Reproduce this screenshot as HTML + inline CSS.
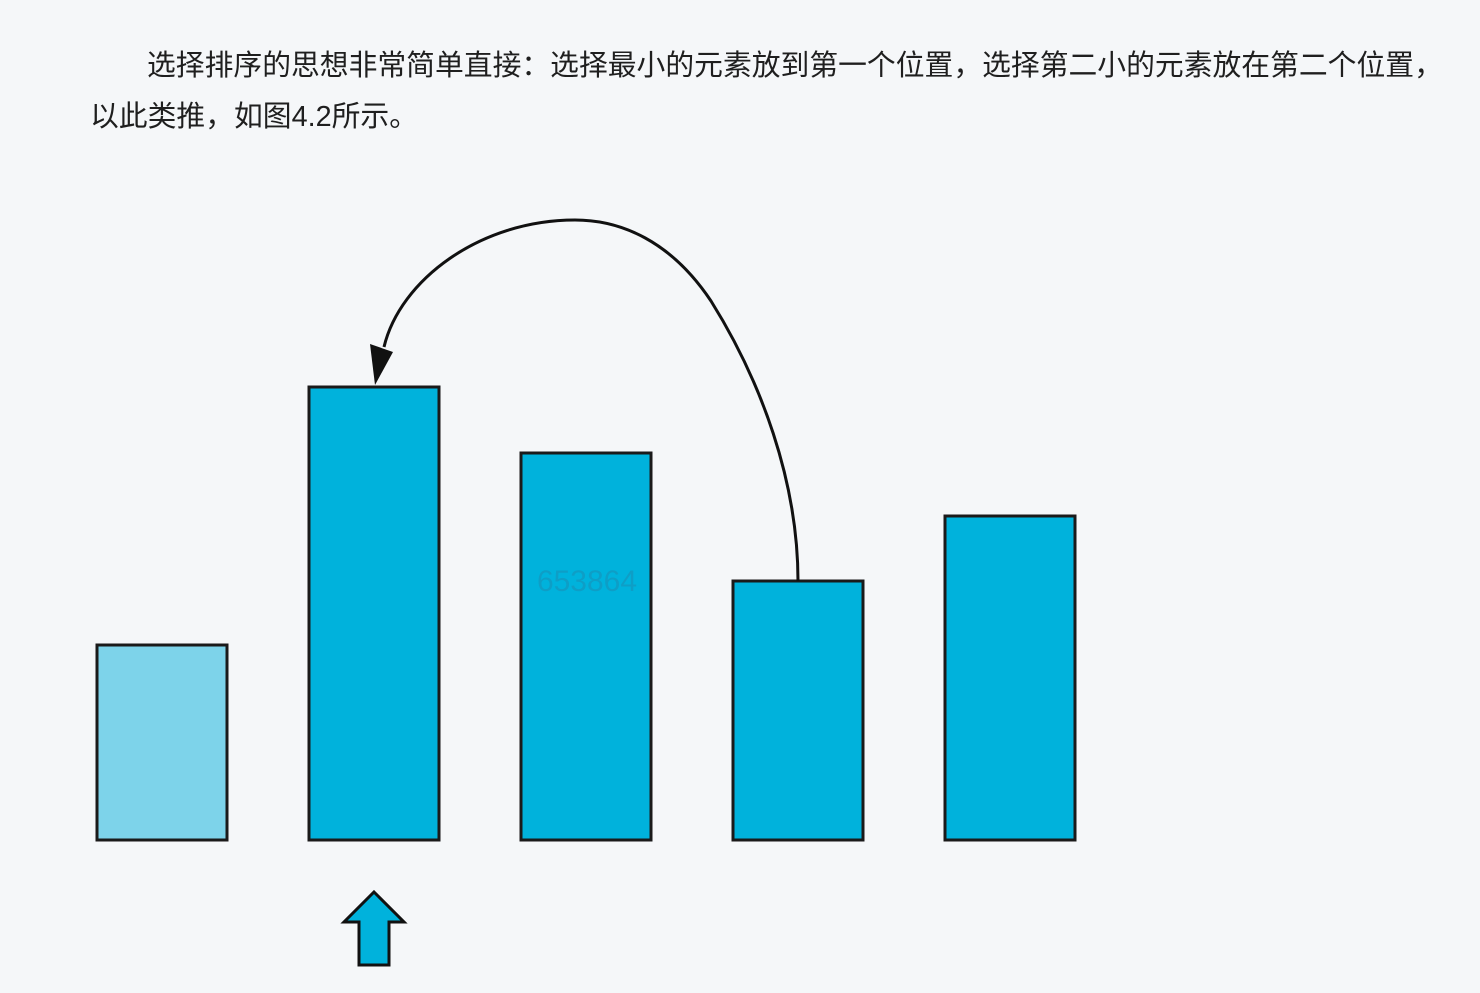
<!DOCTYPE html>
<html><head><meta charset="utf-8">
<style>
html,body{margin:0;padding:0;width:1480px;height:993px;background:#f5f7f9;overflow:hidden}
.t{position:absolute;font-family:"Liberation Sans","Noto Sans CJK SC",sans-serif;font-size:28.8px;color:#1f1f1f;white-space:nowrap}
</style></head>
<body>
<div class="t" style="left:147px;top:43px">选择排序的思想非常简单直接：选择最小的元素放到第一个位置，选择第二小的元素放在第二个位置，</div>
<div class="t" style="left:90px;top:94px">以此类推，如图4.2所示。</div>
<svg id="chart" width="1480" height="993" style="position:absolute;left:0;top:0">
<text x="587" y="591" font-family="Liberation Sans, sans-serif" font-size="30" fill="#1a8fb5" opacity="0.55" text-anchor="middle">653864</text>
</svg>
<script>
const categories = ["a","b","c","d","e"];
const values = [195, 453, 387, 259, 324];
const highlighted = [true, false, false, false, false];
const svg = document.getElementById('chart');
const NS = 'http://www.w3.org/2000/svg';
const baseY = 840, x0 = 97, step = 212, bw = 130;
function xPos(i){ return x0 + i*step; }
function yPos(v){ return baseY - v; }
const wm = svg.lastElementChild;
categories.forEach((c,i)=>{
  const r = document.createElementNS(NS,'rect');
  r.setAttribute('x', xPos(i)); r.setAttribute('y', yPos(values[i]));
  r.setAttribute('width', bw); r.setAttribute('height', values[i]);
  r.setAttribute('fill', highlighted[i] ? '#7dd3ea' : '#00b2dc');
  r.setAttribute('stroke', '#1a1a1a'); r.setAttribute('stroke-width', '3');
  
  
  svg.insertBefore(r, wm);
});
const sx = xPos(3)+bw/2, sy = yPos(values[3]);
const tx = xPos(1)+bw/2+1, ty = yPos(values[1]);
const p = document.createElementNS(NS,'path');
p.setAttribute('d', `M${sx},${sy} C${sx},${sy-100} ${sx-37},${sy-200} ${sx-87},${sy-280} C${sx-127},${sy-340} ${sx-177},220 575,220 C480,220 400,280 ${tx+9},${ty-40}`);
p.setAttribute('fill','none'); p.setAttribute('stroke','#111'); p.setAttribute('stroke-width','3');


svg.appendChild(p);
const h = document.createElementNS(NS,'polygon');
h.setAttribute('points', `${tx},${ty-2} ${tx-5},${ty-43} ${tx+18},${ty-35}`);
h.setAttribute('fill','#111');


svg.appendChild(h);
const ax = xPos(1)+bw/2;
const u = document.createElementNS(NS,'polygon');
u.setAttribute('points', `${ax},892 ${ax+30},922 ${ax+15},922 ${ax+15},965 ${ax-15},965 ${ax-15},922 ${ax-30},922`);
u.setAttribute('fill','#00b2dc'); u.setAttribute('stroke','#111'); u.setAttribute('stroke-width','3');


svg.appendChild(u);
</script>
</body></html>
